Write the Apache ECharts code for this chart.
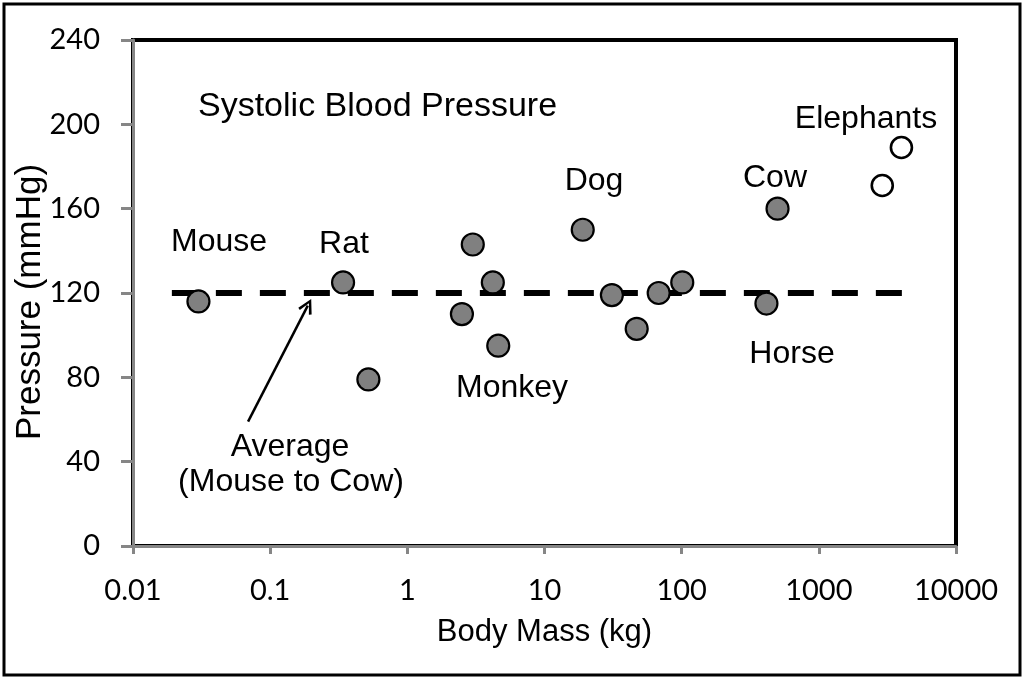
<!DOCTYPE html>
<html>
<head>
<meta charset="utf-8">
<script src="https://cdn.jsdelivr.net/npm/echarts@6/dist/echarts.min.js"></script>
<style>
  html, body { margin: 0; padding: 0; background: #fff; }
  #main { width: 1024px; height: 681px; }
</style>
</head>
<body>
<div id="main"></div>
<script>
// 数据: 体重(kg) 与 收缩压(mmHg)
var massFilled = [0.030, 0.34, 0.52, 2.5, 3.0, 4.2, 4.6, 19, 31, 47, 68, 101, 415, 500];
var pressureFilled = [116, 125, 79, 110, 143, 125, 95, 150, 119, 103, 120, 125, 115, 160];
var massOpen = [2900, 4000];
var pressureOpen = [171, 189];
var averagePressure = 120;
var averageSpan = [0.0192, 5400];
var arrowFrom = [0.069, 59];
var arrowTo = [0.188, 114];
var yTicks = [0, 40, 80, 120, 160, 200, 240];

var labelFont = 'Liberation Sans, Arial, sans-serif';
var tickFont = 'Lato, Carlito, sans-serif';

function pairs(xs, ys) {
  return xs.map(function (x, i) { return [x, ys[i]]; });
}

// 图中文字标注
var notes = [
  { text: 'Systolic Blood Pressure', x: 198, y: 107, align: 'left', size: 34 },
  { text: 'Mouse', x: 219, y: 242 },
  { text: 'Rat', x: 344, y: 244 },
  { text: 'Dog', x: 594, y: 181 },
  { text: 'Cow', x: 775, y: 178 },
  { text: 'Elephants', x: 866, y: 119 },
  { text: 'Horse', x: 792, y: 354 },
  { text: 'Monkey', x: 512, y: 388 },
  { text: 'Average', x: 290, y: 447 },
  { text: '(Mouse to Cow)', x: 291, y: 482 }
];

var chart = echarts.init(document.getElementById('main'));

var option = {
  animation: false,
  backgroundColor: '#fff',
  grid: {
    left: 133, right: 68, top: 40, bottom: 135,
    show: true, borderColor: '#000', borderWidth: 4
  },
  xAxis: {
    type: 'log',
    logBase: 10,
    min: 0.01,
    max: 10000,
    name: 'Body Mass (kg)',
    nameLocation: 'middle',
    nameGap: 71,
    nameTextStyle: { fontFamily: labelFont, fontSize: 31, color: '#000' },
    axisLine: { show: true, lineStyle: { color: '#868686', width: 3 } },
    axisTick: { show: true, length: 8, lineStyle: { color: '#868686', width: 3 } },
    splitLine: { show: false },
    minorTick: { show: false },
    axisLabel: {
      margin: 30,
      fontFamily: tickFont, fontSize: 29, color: '#000',
      formatter: function (v) { return String(+v.toPrecision(6)); }
    }
  },
  yAxis: {
    type: 'value',
    min: yTicks[0],
    max: yTicks[yTicks.length - 1],
    interval: 40,
    axisLine: { show: true, lineStyle: { color: '#868686', width: 3 } },
    axisTick: { show: true, length: 12, lineStyle: { color: '#868686', width: 3 } },
    splitLine: { show: false },
    axisLabel: { margin: 33, fontFamily: tickFont, fontSize: 29, color: '#000' }
  },
  series: [
    {
      type: 'scatter',
      name: 'filled',
      data: pairs(massFilled, pressureFilled),
      symbol: 'circle',
      symbolSize: 22,
      z: 3,
      itemStyle: { color: '#808080', borderColor: '#000', borderWidth: 2.2, opacity: 1 },
      markLine: {
        silent: true,
        z: 2,
        label: { show: false },
        data: [
          [
            { coord: [averageSpan[0], averagePressure], symbol: 'none',
              lineStyle: { type: [26, 18], width: 6, color: '#000', cap: 'butt' } },
            { coord: [averageSpan[1], averagePressure], symbol: 'none' }
          ],
          [
            { coord: arrowFrom, symbol: 'none',
              lineStyle: { type: 'solid', width: 2.5, color: '#000' } },
            { coord: arrowTo,
              symbol: 'path://M5,0 L10,10 L8.4,11 L5,3.6 L1.6,11 L0,10 Z',
              symbolSize: [15, 15] }
          ]
        ]
      }
    },
    {
      type: 'scatter',
      name: 'open',
      data: pairs(massOpen, pressureOpen),
      symbol: 'circle',
      symbolSize: 21,
      z: 3,
      itemStyle: { color: '#fff', borderColor: '#000', borderWidth: 2.6, opacity: 1 }
    }
  ],
  graphic: [
    {
      type: 'rect',
      shape: { x: 4, y: 4, width: 1016, height: 671 },
      style: { fill: 'none', stroke: '#000', lineWidth: 3 },
      z: 10
    },
    {
      // y轴标题
      type: 'text',
      x: 30, y: 302,
      rotation: Math.PI / 2,
      z: 10,
      style: {
        text: 'Pressure (mmHg)',
        fontFamily: labelFont,
        fontSize: 35,
        fill: '#000',
        align: 'center',
        verticalAlign: 'middle'
      }
    }
  ].concat(notes.map(function (n) {
    return {
      type: 'text',
      x: n.x, y: n.y,
      z: 10,
      style: {
        text: n.text,
        fontFamily: labelFont,
        fontSize: n.size || 32,
        fill: '#000',
        align: n.align || 'center',
        verticalAlign: 'middle'
      }
    };
  }))
};

chart.setOption(option);
</script>
</body>
</html>
